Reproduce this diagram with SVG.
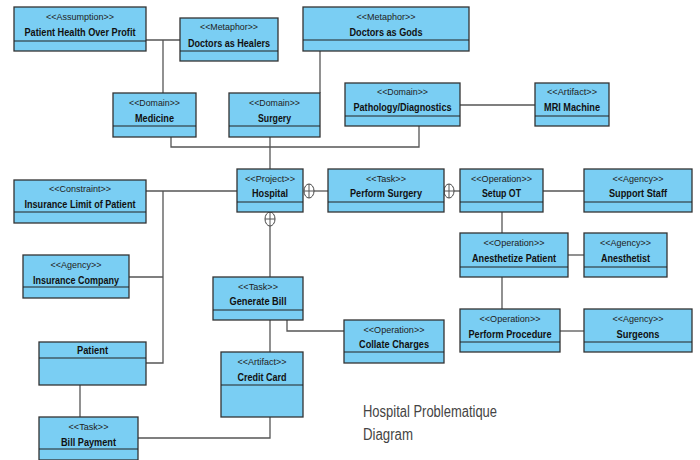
<svg xmlns="http://www.w3.org/2000/svg" width="700" height="460" viewBox="0 0 700 460">
<style>
.box{fill:#7ACEF3;stroke:#333;stroke-width:1.3}
.div{stroke:#222;stroke-width:1.2}
.st{font-family:"Liberation Sans",Arial,sans-serif;font-size:9.5px;fill:#222;text-anchor:middle}
.nm{font-family:"Liberation Sans",Arial,sans-serif;font-size:10.5px;font-weight:bold;fill:#111;text-anchor:middle}
.cn{fill:none;stroke:#555;stroke-width:1.3}
.cp{fill:#fff;stroke:#444;stroke-width:1}
.title{font-family:"Liberation Sans",Arial,sans-serif;font-size:16px;fill:#444}
</style>
<rect width="700" height="460" fill="#fff"/>
<g id="connectors">
<polyline class="cn" points="146,40 180,40"/>
<polyline class="cn" points="163,40 163,93"/>
<polyline class="cn" points="320,51 320,93"/>
<polyline class="cn" points="171,137 171,147 419,147 419,126"/>
<polyline class="cn" points="270,137 270,169"/>
<polyline class="cn" points="460,105 535,105"/>
<polyline class="cn" points="146,191 237,191"/>
<polyline class="cn" points="163,191 163,363 146,363"/>
<polyline class="cn" points="129,277 163,277"/>
<polyline class="cn" points="314,191 328,191"/>
<ellipse class="cp" cx="309" cy="191" rx="5" ry="7"/>
<line class="cn" x1="304" y1="191" x2="314" y2="191" style="stroke-width:1"/>
<line class="cn" x1="309" y1="184" x2="309" y2="198" style="stroke-width:1"/>
<polyline class="cn" points="444,191 449,191"/>
<polyline class="cn" points="454,191 460,191"/>
<ellipse class="cp" cx="449" cy="191" rx="5" ry="7"/>
<line class="cn" x1="444" y1="191" x2="454" y2="191" style="stroke-width:1"/>
<line class="cn" x1="449" y1="184" x2="449" y2="198" style="stroke-width:1"/>
<polyline class="cn" points="270,226 270,277"/>
<ellipse class="cp" cx="270" cy="219" rx="5" ry="7"/>
<line class="cn" x1="265" y1="219" x2="275" y2="219" style="stroke-width:1"/>
<line class="cn" x1="270" y1="212" x2="270" y2="226" style="stroke-width:1"/>
<polyline class="cn" points="543,191 584,191"/>
<polyline class="cn" points="502,212 502,233"/>
<polyline class="cn" points="568,255 584,255"/>
<polyline class="cn" points="502,277 502,309"/>
<polyline class="cn" points="560,331 584,331"/>
<polyline class="cn" points="287,320 287,331 344,331"/>
<polyline class="cn" points="270,320 270,352"/>
<polyline class="cn" points="80,385 80,417"/>
<polyline class="cn" points="138,438 270,438 270,417"/>
</g>
<g id="n-assumption"><rect class="box" x="14" y="7" width="132" height="44"/><line class="div" x1="14" y1="41" x2="146" y2="41"/><text class="st" x="80" y="20" textLength="68" lengthAdjust="spacingAndGlyphs">&lt;&lt;Assumption&gt;&gt;</text><text class="nm" x="80" y="36" textLength="111" lengthAdjust="spacingAndGlyphs">Patient Health Over Profit</text></g>
<g id="n-healers"><rect class="box" x="180" y="18" width="98" height="43"/><line class="div" x1="180" y1="51" x2="278" y2="51"/><text class="st" x="229" y="30" textLength="58" lengthAdjust="spacingAndGlyphs">&lt;&lt;Metaphor&gt;&gt;</text><text class="nm" x="229" y="47" textLength="82" lengthAdjust="spacingAndGlyphs">Doctors as Healers</text></g>
<g id="n-gods"><rect class="box" x="303" y="7" width="166" height="44"/><line class="div" x1="303" y1="40" x2="469" y2="40"/><text class="st" x="386" y="20" textLength="59" lengthAdjust="spacingAndGlyphs">&lt;&lt;Metaphor&gt;&gt;</text><text class="nm" x="386" y="36" textLength="73" lengthAdjust="spacingAndGlyphs">Doctors as Gods</text></g>
<g id="n-medicine"><rect class="box" x="113" y="93" width="83" height="44"/><line class="div" x1="113" y1="126" x2="196" y2="126"/><text class="st" x="154.5" y="106" textLength="51" lengthAdjust="spacingAndGlyphs">&lt;&lt;Domain&gt;&gt;</text><text class="nm" x="154.5" y="122" textLength="39" lengthAdjust="spacingAndGlyphs">Medicine</text></g>
<g id="n-surgery"><rect class="box" x="229" y="93" width="91" height="44"/><line class="div" x1="229" y1="126" x2="320" y2="126"/><text class="st" x="274.5" y="106" textLength="51" lengthAdjust="spacingAndGlyphs">&lt;&lt;Domain&gt;&gt;</text><text class="nm" x="274.5" y="122" textLength="33" lengthAdjust="spacingAndGlyphs">Surgery</text></g>
<g id="n-pathology"><rect class="box" x="345" y="83" width="115" height="43"/><line class="div" x1="345" y1="116" x2="460" y2="116"/><text class="st" x="402.5" y="95" textLength="51" lengthAdjust="spacingAndGlyphs">&lt;&lt;Domain&gt;&gt;</text><text class="nm" x="402.5" y="111" textLength="98" lengthAdjust="spacingAndGlyphs">Pathology/Diagnostics</text></g>
<g id="n-mri"><rect class="box" x="535" y="83" width="74" height="43"/><line class="div" x1="535" y1="116" x2="609" y2="116"/><text class="st" x="572" y="95" textLength="50" lengthAdjust="spacingAndGlyphs">&lt;&lt;Artifact&gt;&gt;</text><text class="nm" x="572" y="111" textLength="56" lengthAdjust="spacingAndGlyphs">MRI Machine</text></g>
<g id="n-constraint"><rect class="box" x="14" y="180" width="132" height="43"/><line class="div" x1="14" y1="212" x2="146" y2="212"/><text class="st" x="80" y="192" textLength="62" lengthAdjust="spacingAndGlyphs">&lt;&lt;Constraint&gt;&gt;</text><text class="nm" x="80" y="208" textLength="111" lengthAdjust="spacingAndGlyphs">Insurance Limit of Patient</text></g>
<g id="n-hospital"><rect class="box" x="237" y="169" width="66" height="43"/><line class="div" x1="237" y1="202" x2="303" y2="202"/><text class="st" x="270" y="182" textLength="50" lengthAdjust="spacingAndGlyphs">&lt;&lt;Project&gt;&gt;</text><text class="nm" x="270" y="197" textLength="36" lengthAdjust="spacingAndGlyphs">Hospital</text></g>
<g id="n-performsurgery"><rect class="box" x="328" y="169" width="116" height="43"/><line class="div" x1="328" y1="202" x2="444" y2="202"/><text class="st" x="386" y="182" textLength="40" lengthAdjust="spacingAndGlyphs">&lt;&lt;Task&gt;&gt;</text><text class="nm" x="386" y="197" textLength="72" lengthAdjust="spacingAndGlyphs">Perform Surgery</text></g>
<g id="n-setupot"><rect class="box" x="460" y="169" width="83" height="43"/><line class="div" x1="460" y1="202" x2="543" y2="202"/><text class="st" x="501.5" y="182" textLength="61" lengthAdjust="spacingAndGlyphs">&lt;&lt;Operation&gt;&gt;</text><text class="nm" x="501.5" y="197" textLength="39" lengthAdjust="spacingAndGlyphs">Setup OT</text></g>
<g id="n-supportstaff"><rect class="box" x="584" y="169" width="108" height="43"/><line class="div" x1="584" y1="202" x2="692" y2="202"/><text class="st" x="638" y="182" textLength="51" lengthAdjust="spacingAndGlyphs">&lt;&lt;Agency&gt;&gt;</text><text class="nm" x="638" y="197" textLength="58" lengthAdjust="spacingAndGlyphs">Support Staff</text></g>
<g id="n-anesthetize"><rect class="box" x="460" y="233" width="108" height="44"/><line class="div" x1="460" y1="267" x2="568" y2="267"/><text class="st" x="514" y="246" textLength="61" lengthAdjust="spacingAndGlyphs">&lt;&lt;Operation&gt;&gt;</text><text class="nm" x="514" y="262" textLength="84" lengthAdjust="spacingAndGlyphs">Anesthetize Patient</text></g>
<g id="n-anesthetist"><rect class="box" x="584" y="233" width="83" height="44"/><line class="div" x1="584" y1="267" x2="667" y2="267"/><text class="st" x="625.5" y="246" textLength="51" lengthAdjust="spacingAndGlyphs">&lt;&lt;Agency&gt;&gt;</text><text class="nm" x="625.5" y="262" textLength="49" lengthAdjust="spacingAndGlyphs">Anesthetist</text></g>
<g id="n-inscompany"><rect class="box" x="23" y="255" width="106" height="43"/><line class="div" x1="23" y1="287" x2="129" y2="287"/><text class="st" x="76" y="268" textLength="51" lengthAdjust="spacingAndGlyphs">&lt;&lt;Agency&gt;&gt;</text><text class="nm" x="76" y="284" textLength="86" lengthAdjust="spacingAndGlyphs">Insurance Company</text></g>
<g id="n-generatebill"><rect class="box" x="213" y="277" width="90" height="43"/><line class="div" x1="213" y1="310" x2="303" y2="310"/><text class="st" x="258" y="290" textLength="40" lengthAdjust="spacingAndGlyphs">&lt;&lt;Task&gt;&gt;</text><text class="nm" x="258" y="305" textLength="57" lengthAdjust="spacingAndGlyphs">Generate Bill</text></g>
<g id="n-procedure"><rect class="box" x="460" y="309" width="100" height="43"/><line class="div" x1="460" y1="342" x2="560" y2="342"/><text class="st" x="510" y="322" textLength="61" lengthAdjust="spacingAndGlyphs">&lt;&lt;Operation&gt;&gt;</text><text class="nm" x="510" y="338" textLength="83" lengthAdjust="spacingAndGlyphs">Perform Procedure</text></g>
<g id="n-surgeons"><rect class="box" x="584" y="309" width="108" height="43"/><line class="div" x1="584" y1="342" x2="692" y2="342"/><text class="st" x="638" y="322" textLength="51" lengthAdjust="spacingAndGlyphs">&lt;&lt;Agency&gt;&gt;</text><text class="nm" x="638" y="338" textLength="43" lengthAdjust="spacingAndGlyphs">Surgeons</text></g>
<g id="n-collate"><rect class="box" x="344" y="320" width="100" height="43"/><line class="div" x1="344" y1="352" x2="444" y2="352"/><text class="st" x="394" y="333" textLength="61" lengthAdjust="spacingAndGlyphs">&lt;&lt;Operation&gt;&gt;</text><text class="nm" x="394" y="348" textLength="70" lengthAdjust="spacingAndGlyphs">Collate Charges</text></g>
<g id="n-patient"><rect class="box" x="39" y="342" width="107" height="43"/><line class="div" x1="39" y1="358" x2="146" y2="358"/><text class="nm" x="92.5" y="354" textLength="31" lengthAdjust="spacingAndGlyphs">Patient</text></g>
<g id="n-creditcard"><rect class="box" x="221" y="352" width="82" height="65"/><line class="div" x1="221" y1="385" x2="303" y2="385"/><text class="st" x="262" y="365" textLength="49" lengthAdjust="spacingAndGlyphs">&lt;&lt;Artifact&gt;&gt;</text><text class="nm" x="262" y="381" textLength="49" lengthAdjust="spacingAndGlyphs">Credit Card</text></g>
<g id="n-billpayment"><rect class="box" x="39" y="417" width="99" height="43"/><line class="div" x1="39" y1="449" x2="138" y2="449"/><text class="st" x="88.5" y="430" textLength="40" lengthAdjust="spacingAndGlyphs">&lt;&lt;Task&gt;&gt;</text><text class="nm" x="88.5" y="446" textLength="55" lengthAdjust="spacingAndGlyphs">Bill Payment</text></g>
<g id="title"><text class="title" x="363" y="417" textLength="134" lengthAdjust="spacingAndGlyphs">Hospital Problematique</text><text class="title" x="363" y="440" textLength="50" lengthAdjust="spacingAndGlyphs">Diagram</text></g>
</svg>
